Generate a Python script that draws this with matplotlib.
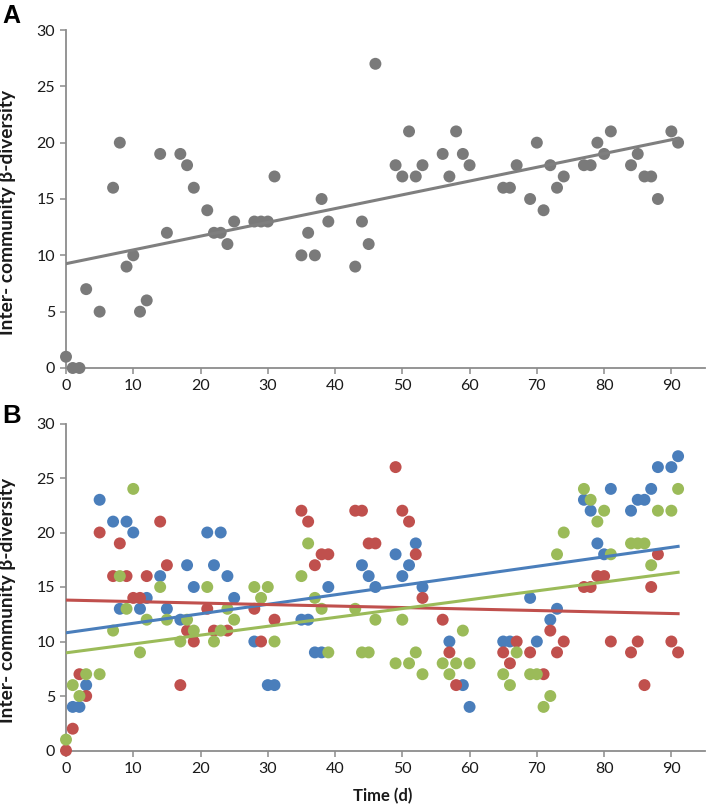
import matplotlib
matplotlib.use("Agg")
import matplotlib.pyplot as plt
import numpy as np

# ---------------- Data ----------------
# Panel A
a_days = [0, 1, 2, 3, 5, 7, 8, 9, 10, 11, 12, 14, 15, 17, 18, 19, 21, 22, 23, 24, 25,
          28, 29, 30, 31, 35, 36, 37, 38, 39, 43, 44, 45, 46, 49, 50, 51, 52, 53,
          56, 57, 58, 59, 60, 65, 66, 67, 69, 70, 71, 72, 73, 74, 77, 78, 79, 80, 81,
          84, 85, 86, 87, 88, 90, 91]
a_vals = [1, 0, 0, 7, 5, 16, 20, 9, 10, 5, 6, 19, 12, 19, 18, 16, 14, 12, 12, 11, 13,
          13, 13, 13, 17, 10, 12, 10, 15, 13, 9, 13, 11, 27, 18, 17, 21, 17, 18,
          19, 17, 21, 19, 18, 16, 16, 18, 15, 20, 14, 18, 16, 17, 18, 18, 20, 19, 21,
          18, 19, 17, 17, 15, 21, 20]
a_trend = [9.26, 0.1222]   # intercept, slope

# Panel B
b_days = [0, 1, 2, 3, 5, 7, 8, 9, 10, 11, 12, 14, 15, 17, 18, 19, 21, 22, 23, 24, 25,
          28, 29, 30, 31, 35, 36, 37, 38, 39, 43, 44, 45, 46, 49, 50, 51, 52, 53,
          56, 57, 58, 59, 60, 65, 66, 67, 69, 70, 71, 72, 73, 74, 77, 78, 79, 80, 81,
          84, 85, 86, 87, 88, 90, 91]
blue_vals = [None, 4, 4, 6, 23, 21, 13, 21, 20, 13, 14, 16, 13, 12, 17, 15, 20, 17, 20, 16, 14,
             10, None, 6, 6, 12, 12, 9, 9, 15, None, 17, 16, 15, 18, 16, 17, 19, 15,
             None, 10, None, 6, 4, 10, 10, None, 14, 10, None, 12, 13, None, 23, 22, 19, 18, 24,
             22, 23, 23, 24, 26, 26, 27]
red_vals = [0, 2, 7, 5, 20, 16, 19, 16, 14, 14, 16, 21, 17, 6, 11, 10, 13, 11, None, 11, None,
            13, 10, None, 12, 22, 21, 17, 18, 18, 22, 22, 19, 19, 26, 22, 21, 18, 14,
            12, 9, 6, None, None, 9, 8, 10, 9, None, 7, 11, 9, 10, 15, 15, 16, 16, 10,
            9, 10, 6, 15, 18, 10, 9]
green_vals = [1, 6, 5, 7, 7, 11, 16, 13, 24, 9, 12, 15, 12, 10, 12, 11, 15, 10, 11, 13, 12,
              15, 14, 15, 10, 16, 19, 14, 13, 9, 13, 9, 9, 12, 8, 12, 8, 9, 7,
              8, 7, 8, 11, 8, 7, 6, 9, 7, 7, 4, 5, 18, 20, 24, 23, 21, 22, 18,
              19, 19, 19, 17, 22, 22, 24]
blue_trend = [10.8, 0.0871]
red_trend = [13.8, -0.0137]
green_trend = [8.96, 0.0812]

x_ticks = [0, 10, 20, 30, 40, 50, 60, 70, 80, 90]
y_ticks = [0, 5, 10, 15, 20, 25, 30]

# ---------------- Style ----------------
GRAY_PT = "#7a7a7a"
GRAY_LN = "#7f7f7f"
BLUE = "#4a7ebb"
RED = "#c0504d"
GREEN = "#9bbb59"
AXC = "#8c8c8c"
FONT = ["Lato", "DejaVu Sans"]

W, H = 709, 808
fig = plt.figure(figsize=(W / 100, H / 100), dpi=100)

def px_axes(x0, x1, ytop, ybot):
    return fig.add_axes([x0 / W, 1 - ybot / H, (x1 - x0) / W, (ybot - ytop) / H])

axA = px_axes(66, 705, 30, 368)
axB = px_axes(66, 705, 423.5, 750.5)

def style(ax):
    ax.set_xlim(0, 95)
    ax.set_ylim(0, 30)
    ax.set_xticks(x_ticks)
    ax.set_yticks(y_ticks)
    for s in ("top", "right"):
        ax.spines[s].set_visible(False)
    for s in ("left", "bottom"):
        ax.spines[s].set_color(AXC)
        ax.spines[s].set_linewidth(1.3)
    ax.tick_params(axis="both", direction="out", length=4, width=1.1, color=AXC,
                   labelsize=11.5, pad=4)
    for lab in ax.get_xticklabels() + ax.get_yticklabels():
        lab.set_fontfamily(FONT)
        lab.set_color("#1a1a1a")
    ax.set_ylabel("Inter- community β-diversity", fontfamily=FONT, fontweight="bold",
                  fontsize=13.8, color="#1a1a1a")
    ax.yaxis.set_label_coords(-0.078, 0.46)
    ax.patch.set_alpha(0)

MS = 74

# Panel A
style(axA)
axA.scatter(a_days, a_vals, s=MS, color=GRAY_PT, edgecolors="none", zorder=3, clip_on=False)
xx = np.array([0, 91])
axA.plot(xx, a_trend[0] + a_trend[1] * xx, color=GRAY_LN, lw=2.2, zorder=4)

# Panel B
style(axB)
def series(vals, color):
    xs = [d for d, v in zip(b_days, vals) if v is not None]
    ys = [v for v in vals if v is not None]
    axB.scatter(xs, ys, s=MS, color=color, edgecolors="none", zorder=3, clip_on=False)

series(blue_vals, BLUE)
series(red_vals, RED)
series(green_vals, GREEN)
for tr, c in ((blue_trend, BLUE), (red_trend, RED), (green_trend, GREEN)):
    axB.plot(xx, tr[0] + tr[1] * xx, color=c, lw=2.2, zorder=4)

axB.set_xlabel("Time (d)", fontfamily=FONT, fontweight="bold", fontsize=12, color="#1a1a1a")
axB.xaxis.set_label_coords((383 - 66) / (705 - 66), -0.115)

fig.text(2 / W, 1 - 4 / H, "A", fontsize=18, fontweight="bold", fontfamily="Liberation Sans",
         va="top", ha="left")
fig.text(2 / W, 1 - 404 / H, "B", fontsize=18.5, fontweight="bold", fontfamily="Liberation Sans",
         va="top", ha="left")

fig.savefig("out.png", dpi=100)
